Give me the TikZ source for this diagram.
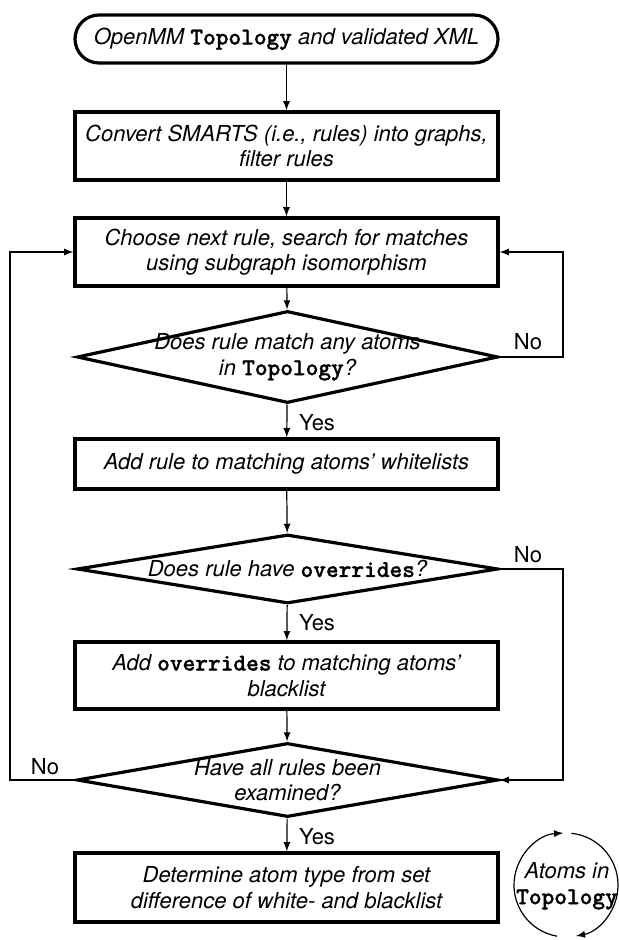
\documentclass[tikz,border=0pt]{standalone}
\usepackage{fontspec}
\setmainfont{TeX Gyre Heros}
\newfontfamily\codefont{lmmonolt10-bold.otf}[FakeBold=1.2,Scale=1.1]
\newcommand{\code}[1]{{\codefont\upshape #1}}
\usetikzlibrary{shapes.geometric}

\begin{document}
\begin{tikzpicture}[x=0.5pt,y=-0.5pt,>=latex,
  every node/.style={font=\fontsize{11}{13}\selectfont},
  txt/.style={font=\fontsize{11}{12.8}\selectfont\itshape,align=center},
  box/.style={txt,draw,line width=1.6pt,minimum width=211.5pt,minimum height=#1,inner sep=0pt},
  decision/.style={draw,diamond,line width=1.6pt,minimum width=210.5pt,minimum height=#1,inner sep=0pt},
  line/.style={line width=0.6pt}]
\useasboundingbox (0,0) rectangle (619,940);
\node[box=24pt,rounded corners=12pt] (start) at (286.5,39) {OpenMM \code{Topology} and validated XML};
\node[box=34pt] (convert) at (286.5,146) {Convert SMARTS (i.e., rules) into graphs,\\filter rules};
\node[box=34pt] (choose) at (286.5,252) {Choose next rule, search for matches\\using subgraph isomorphism};
\node[decision=46pt] (match) at (287.5,357) {};
\node[txt] at (match) {Does rule match any atoms\\in \code{Topology}?};
\node[box=25pt] (white) at (286.5,464) {Add rule to matching atoms' whitelists};
\node[decision=34.5pt] (over) at (287.5,569) {};
\node[txt] at (over) {Does rule have \code{overrides}?};
\node[box=33.5pt] (black) at (286.5,675.5) {Add \code{overrides} to matching atoms'\\blacklist};
\node[decision=37pt] (all) at (287.5,780) {};
\node[txt] at (all) {Have all rules been\\examined?};
\node[box=34.5pt] (final) at (286.5,887.5) {Determine atom type from set\\difference of white- and blacklist};
\node[txt] (atoms) at (567,886) {Atoms in\\\code{Topology}};
\draw[line,->] (start) -- (convert);
\draw[line,->] (convert) -- (choose);
\draw[line,->] (choose) -- (match);
\draw[line,->] (match) -- (white);
\draw[line,->] (white) -- (over);
\draw[line,->] (over) -- (black);
\draw[line,->] (black) -- (all);
\draw[line,->] (all) -- (final);
\draw[line,->] (match.east) -- (563,357) |- (choose.east);
\draw[line,->] (over.east) -- (563,569) |- (all.east);
\draw[line,->] (all.west) -- (10,780) |- (choose.west);
\node[anchor=west] at (292,423) {Yes};
\node[anchor=west] at (292,623) {Yes};
\node[anchor=west] at (292,837) {Yes};
\node at (528,342) {No};
\node at (528,555) {No};
\node at (45,767) {No};
\draw[line,->] (566,885) ++(-84:52) arc[start angle=-84,end angle=79,radius=52];
\draw[line,->] (566,885) ++(100:52) arc[start angle=100,end angle=267,radius=52];
\end{tikzpicture}
\end{document}
